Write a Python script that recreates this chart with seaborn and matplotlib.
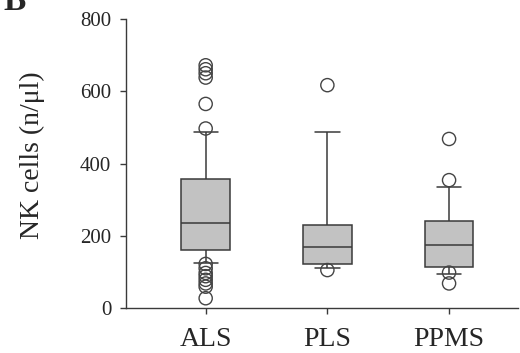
import matplotlib
matplotlib.use("Agg")
import matplotlib.pyplot as plt
import seaborn as sns
import pandas as pd

# ---- data ----
categories = ["ALS", "PLS", "PPMS"]
whisker_low = [125, 112, 95]
q1 = [160, 122, 113]
median = [236, 170, 174]
q3 = [357, 229, 241]
whisker_high = [487, 487, 336]
outliers_als = [672, 661, 650, 638, 565, 497, 122, 110, 97, 88, 78, 68, 59, 27]
outliers_pls = [617, 105]
outliers_ppms = [468, 354, 98, 68]
y_ticks = [0, 200, 400, 600, 800]
y_label = "NK cells (n/μl)"
panel_label = "B"

# ---- build tables ----
box_rows = []
for c, a, b, m, d, e in zip(categories, whisker_low, q1, median, q3, whisker_high):
    for v in (a, b, m, d, e):
        box_rows.append({"group": c, "value": v})
box_df = pd.DataFrame(box_rows)

out_rows = []
for c, vals in zip(categories, [outliers_als, outliers_pls, outliers_ppms]):
    for v in vals:
        out_rows.append({"group": c, "value": v})
out_df = pd.DataFrame(out_rows)

sns.set_style("ticks")
plt.rcParams["font.family"] = ["Liberation Serif", "DejaVu Serif"]

fig = plt.figure(figsize=(5.2, 3.53), dpi=100)
ax = fig.add_axes([0.242, 0.1275, 0.755, 0.8185])

edge = "#3a3a3a"
sns.boxplot(data=box_df, x="group", y="value", order=categories, whis=(0, 100),
            width=0.4, color="#c2c2c2", saturation=1, linecolor=edge,
            linewidth=1.1, fliersize=0, ax=ax)
sns.stripplot(data=out_df, x="group", y="value", order=categories, jitter=False,
              facecolor="none", edgecolor="#444444", linewidth=1.0, size=9.5,
              ax=ax, zorder=3)

ax.set_ylim(0, 800)
ax.set_xlim(-0.656, 2.57)
ax.set_yticks(y_ticks)
ax.set_xlabel("")
ax.set_ylabel(y_label, fontsize=20)
ax.yaxis.set_label_coords(-0.205, 0.53)
ax.tick_params(axis="y", labelsize=15, length=4.5, width=1, color=edge, pad=6)
ax.tick_params(axis="x", labelsize=20, length=4, width=1, color=edge, pad=10)
for s in ("top", "right"):
    ax.spines[s].set_visible(False)
for s in ("left", "bottom"):
    ax.spines[s].set_color(edge)
    ax.spines[s].set_linewidth(1)

fig.text(0.006, 1.04, panel_label, fontsize=24, fontweight="bold", va="top", ha="left")

fig.savefig("out.png", dpi=100)
